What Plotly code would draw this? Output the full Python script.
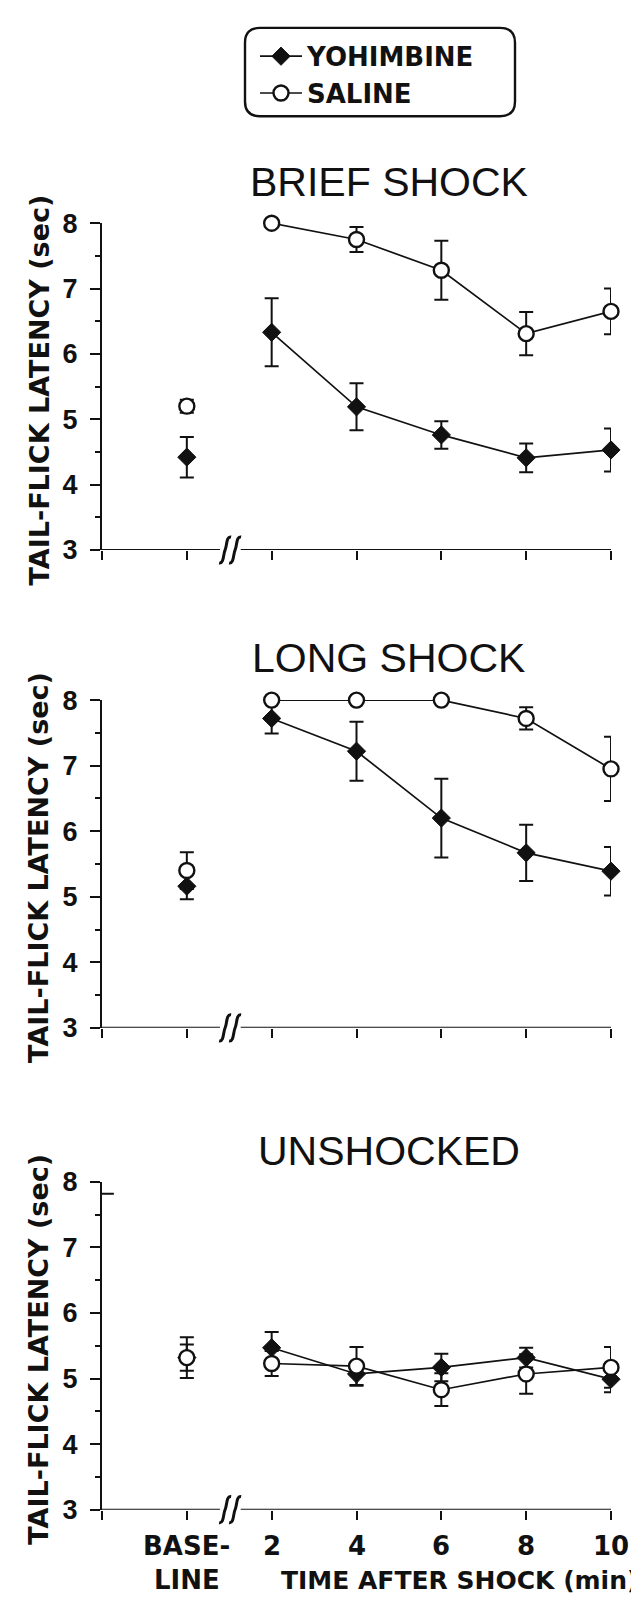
import plotly.graph_objects as go

W, H = 639, 1604

# ---------------- data ----------------
x_pos = [0, 2, 4, 6, 8, 10]
x_ticklabels = ["BASE-", "2", "4", "6", "8", "10"]
y_ticks = [3, 4, 5, 6, 7, 8]
panel_titles = ["BRIEF SHOCK", "LONG SHOCK", "UNSHOCKED"]
series_names = ["YOHIMBINE", "SALINE"]

brief_yoh = [4.42, 6.33, 5.19, 4.76, 4.41, 4.53]
brief_yoh_err = [0.31, 0.52, 0.36, 0.21, 0.22, 0.33]
brief_sal = [5.20, 8.00, 7.75, 7.28, 6.31, 6.65]
brief_sal_err = [0.10, 0.00, 0.19, 0.45, 0.33, 0.35]

long_yoh = [5.16, 7.72, 7.22, 6.20, 5.67, 5.39]
long_yoh_err = [0.20, 0.23, 0.45, 0.60, 0.43, 0.37]
long_sal = [5.40, 8.00, 8.00, 8.00, 7.72, 6.95]
long_sal_err = [0.28, 0.00, 0.00, 0.00, 0.17, 0.49]

unsh_yoh = [5.32, 5.47, 5.07, 5.17, 5.32, 4.99]
unsh_yoh_err = [0.20, 0.24, 0.18, 0.21, 0.15, 0.20]
unsh_sal = [5.32, 5.23, 5.19, 4.83, 5.07, 5.17]
unsh_sal_err = [0.31, 0.19, 0.29, 0.25, 0.30, 0.31]

panels = [
    (brief_yoh, brief_yoh_err, brief_sal, brief_sal_err),
    (long_yoh, long_yoh_err, long_sal, long_sal_err),
    (unsh_yoh, unsh_yoh_err, unsh_sal, unsh_sal_err),
]

# ---------------- layout helpers ----------------
INK = "#111111"
FONT = "Liberation Sans, Arial, sans-serif"
WIDE = "DejaVu Sans, Verdana, sans-serif"

def px_x(p):
    return p / W

def px_y(p):
    return 1 - p / H

X_RANGE = [-2, 10]
BREAK_AT = 1.02
# pixel positions (from top) of y=8 and y=3 for each panel
panel_px = [(204, 537), (690, 1024), (1181, 1515)]
title_px = [162, 647, 1149]
x_dom = [px_x(94), px_x(603)]
break_paper_x = x_dom[0] + (BREAK_AT - X_RANGE[0]) / (X_RANGE[1] - X_RANGE[0]) * (x_dom[1] - x_dom[0])

fig = go.Figure()

marker_styles = [
    dict(symbol="diamond", size=14, color=INK, line=dict(color=INK, width=1)),
    dict(symbol="circle", size=15, color="white", line=dict(color=INK, width=2.4)),
]

shapes = []
annotations = []

for i, (yv, ye, sv, se) in enumerate(panels):
    xa = "x" if i == 0 else f"x{i+1}"
    ya = "y" if i == 0 else f"y{i+1}"
    for k, (vals, errs) in enumerate([(yv, ye), (sv, se)]):
        ms = marker_styles[k]
        eb = dict(type="data", array=errs[1:], color=INK, thickness=2, width=7)
        fig.add_trace(go.Scatter(
            x=x_pos[1:], y=vals[1:], mode="lines+markers", xaxis=xa, yaxis=ya,
            name=series_names[k], showlegend=(i == 0), legendrank=k + 1,
            line=dict(color=INK, width=1.7), marker=ms, error_y=eb, cliponaxis=False,
        ))
        fig.add_trace(go.Scatter(
            x=x_pos[:1], y=vals[:1], mode="markers", xaxis=xa, yaxis=ya,
            showlegend=False, marker=ms,
            error_y=dict(type="data", array=errs[:1], color=INK, thickness=2, width=7),
            cliponaxis=False,
        ))

    top, bot = panel_px[i]
    ydom = [px_y(bot), px_y(top)]
    ax_suffix = "" if i == 0 else str(i + 1)
    fig.layout["xaxis" + ax_suffix] = dict(
        domain=x_dom, range=X_RANGE, anchor=ya, showline=False, showgrid=False,
        zeroline=False, ticks="outside", tickvals=[-2] + x_pos, ticklen=9, tickwidth=2,
        tickcolor=INK, showticklabels=False, fixedrange=True,
    )
    fig.layout["yaxis" + ax_suffix] = dict(
        domain=ydom, range=[3, 8], anchor=xa, showline=True, linecolor=INK, linewidth=2,
        showgrid=False, zeroline=False, ticks="outside", tickvals=y_ticks, ticklen=10,
        tickwidth=2, tickcolor=INK, ticklabelstandoff=7,
        tickfont=dict(family=FONT, size=27, color=INK, weight="bold"),
        minor=dict(ticks="outside", ticklen=5, tickwidth=2, tickcolor=INK,
                   tickvals=[3.5, 4.5, 5.5, 6.5, 7.5], showgrid=False),
        fixedrange=True,
    )

    # x axis line with a break
    for (a, b) in [(-2, 0.78), (1.27, 10)]:
        shapes.append(dict(type="line", xref=xa, yref=ya, x0=a, x1=b, y0=3, y1=3,
                           line=dict(color=INK, width=2)))
    for dx in (-5, 5):
        path = (f"M {dx-6},-13 C {dx-1},-14 {dx-2},-4 {dx},0 "
                f"C {dx+2},4 {dx+1},14 {dx+6},13")
        shapes.append(dict(type="path", xref="paper", yref="paper", xsizemode="pixel",
                           ysizemode="pixel", xanchor=break_paper_x, yanchor=ydom[0],
                           path=path, line=dict(color=INK, width=3)))

    # panel title
    annotations.append(dict(text=panel_titles[i], xref="paper", yref="paper",
                            x=px_x(381), y=px_y(title_px[i]), showarrow=False,
                            xanchor="center", yanchor="middle",
                            font=dict(family=FONT, size=41, color=INK)))
    # y axis title
    annotations.append(dict(text="TAIL-FLICK LATENCY (sec)", xref="paper", yref="paper",
                            x=px_x(31), y=px_y((top + bot) / 2 + 4), showarrow=False,
                            textangle=-90, xanchor="center", yanchor="middle",
                            font=dict(family=WIDE, size=27, color=INK, weight="bold")))

# odd small tick near the top of the last panel's y axis
shapes.append(dict(type="line", xref="x3", yref="y3", x0=-2, x1=-1.72, y0=7.82, y1=7.82,
                   line=dict(color=INK, width=2)))

# x tick labels on bottom panel
for xv, lab in zip(x_pos, x_ticklabels):
    annotations.append(dict(text=lab, xref="x3", yref="paper", x=xv, y=px_y(1552),
                            showarrow=False, xanchor="center", yanchor="middle",
                            font=dict(family=WIDE, size=26, color=INK, weight="bold")))
annotations.append(dict(text="LINE", xref="x3", yref="paper", x=x_pos[0], y=px_y(1587),
                        showarrow=False, xanchor="center", yanchor="middle",
                        font=dict(family=WIDE, size=26, color=INK, weight="bold")))
annotations.append(dict(text="TIME AFTER SHOCK (min)", xref="paper", yref="paper",
                        x=px_x(632), y=px_y(1587), showarrow=False, xanchor="right",
                        yanchor="middle",
                        font=dict(family=WIDE, size=25, color=INK, weight="bold")))

# rounded legend frame
def rounded_rect(x0, y0, x1, y1, r):
    X = px_x
    Y = px_y
    return (f"M {X(x0+r)},{Y(y0)} L {X(x1-r)},{Y(y0)} Q {X(x1)},{Y(y0)} {X(x1)},{Y(y0+r)} "
            f"L {X(x1)},{Y(y1-r)} Q {X(x1)},{Y(y1)} {X(x1-r)},{Y(y1)} "
            f"L {X(x0+r)},{Y(y1)} Q {X(x0)},{Y(y1)} {X(x0)},{Y(y1-r)} "
            f"L {X(x0)},{Y(y0+r)} Q {X(x0)},{Y(y0)} {X(x0+r)},{Y(y0)} Z")

shapes.append(dict(type="path", xref="paper", yref="paper",
                   path=rounded_rect(237, 5, 507, 95, 15),
                   line=dict(color=INK, width=2.4)))

fig.update_layout(
    width=W, height=H, margin=dict(l=0, r=0, t=0, b=0),
    paper_bgcolor="white", plot_bgcolor="white",
    shapes=shapes, annotations=annotations,
    legend=dict(x=px_x(247), y=px_y(10), xanchor="left", yanchor="top",
                bgcolor="rgba(0,0,0,0)", borderwidth=0, traceorder="normal",
                font=dict(family=WIDE, size=26, color=INK, weight="bold"),
                itemwidth=42, tracegroupgap=0),
    showlegend=True,
)

fig.write_html("out.html")
